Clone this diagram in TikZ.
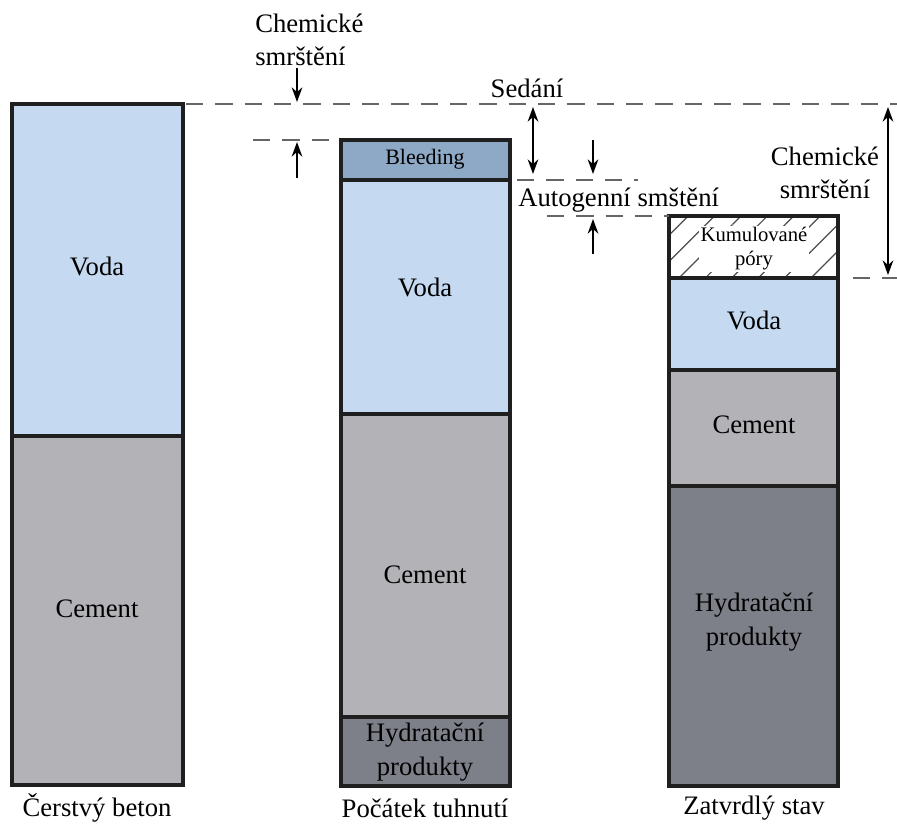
\documentclass[tikz,border=0pt]{standalone}
\usepackage{fontspec}
\setmainfont{Liberation Serif}
\usetikzlibrary{patterns.meta,arrows.meta}
\definecolor{voda}{HTML}{C5D9F1}
\definecolor{cem}{HTML}{B3B3B7}
\definecolor{hydr}{HTML}{7E8089}
\definecolor{bleed}{HTML}{8DA9C6}
\begin{document}
\begin{tikzpicture}[x=0.75pt,y=-0.75pt,
  seg/.style={draw=black!88,line width=2.6pt},
  lbl/.style={font=\fontsize{20}{25}\selectfont, align=center, text=black, inner sep=0pt},
  small/.style={font=\fontsize{16.5}{18}\selectfont, align=center, text=black, inner sep=0pt},
  guide/.style={draw=black!60, line width=1.5pt, dash pattern=on 13pt off 9pt},
  arr/.style={-{Stealth[length=11pt,width=8pt]}, line width=1.2pt},
  darr/.style={{Stealth[length=11pt,width=8pt]}-{Stealth[length=11pt,width=8pt]}, line width=1.2pt}]
\useasboundingbox (0,0) rectangle (897,825);

% column 1
\draw[seg,fill=voda] (12,104) rectangle (183,436);
\draw[seg,fill=cem] (12,436) rectangle (183,785);
\node[lbl] (v1) at (97,266) {Voda};
\node[lbl] (c1) at (97,609) {Cement};
\node[lbl] (t1) at (97,808) {Čerstvý beton};

% column 2
\draw[seg,fill=bleed] (341,140) rectangle (510,180);
\draw[seg,fill=voda] (341,180) rectangle (510,414);
\draw[seg,fill=cem] (341,414) rectangle (510,717);
\draw[seg,fill=hydr] (341,717) rectangle (510,786);
\node[small] (b2) at (425,159) {Bleeding};
\node[lbl] (v2) at (425,287) {Voda};
\node[lbl] (c2) at (425,575) {Cement};
\node[lbl] (h2) at (425,752) {Hydratační\\produkty};
\node[lbl] (t2) at (425,808) {Počátek tuhnutí};

% column 3
\draw[seg,pattern={Lines[angle=45,distance=14pt,line width=0.9pt]},pattern color=black!70] (669,216) rectangle (838,278);
\draw[seg,fill=voda] (669,278) rectangle (838,370);
\draw[seg,fill=cem] (669,370) rectangle (838,486);
\draw[seg,fill=hydr] (669,486) rectangle (838,786);
\node[font=\fontsize{15.5}{18}\selectfont, align=center, text=black, fill=white, inner sep=1pt] (k3) at (754,249) {Kumulované\\póry};
\node[lbl] (v3) at (754,320) {Voda};
\node[lbl] (c3) at (754,425) {Cement};
\node[lbl] (h3) at (754,622) {Hydratační\\produkty};
\node[lbl] (t3) at (754,808) {Zatvrdlý stav};

% guide lines
\coordinate (g1a) at (186,104); \coordinate (g1b) at (897,104);
\coordinate (g2a) at (253,140); \coordinate (g2b) at (341,140);
\coordinate (g3a) at (517,180); \coordinate (g3b) at (638,180);
\coordinate (g4a) at (547,216); \coordinate (g4b) at (669,216);
\coordinate (g5a) at (853,278); \coordinate (g5b) at (897,278);
\draw[guide] (g1a) -- (g1b);
\draw[guide] (g2a) -- (g2b);
\draw[guide] (g3a) -- (g3b);
\draw[guide] (g4a) -- (g4b);
\draw[guide] (g5a) -- (g5b);

% labels
\node[lbl, align=left, anchor=west] (chl) at (255,40) {Chemické\\smrštění};
\node[lbl] (sed) at (527,88) {Sedání};
\node[lbl, anchor=west] (aut) at (518,200) {Autogenní smštění};
\node[lbl] (chr) at (825,173) {Chemické\\smrštění};

% arrows
\coordinate (a1s) at (297,68); \coordinate (a1e) at (297,102);
\coordinate (a2s) at (297,178); \coordinate (a2e) at (297,142);
\coordinate (a3s) at (533,107); \coordinate (a3e) at (533,174);
\coordinate (a4s) at (593,140); \coordinate (a4e) at (593,174);
\coordinate (a5s) at (593,254); \coordinate (a5e) at (593,219);
\coordinate (a6s) at (888,107); \coordinate (a6e) at (888,275);
\draw[arr] (a1s) -- (a1e);
\draw[arr] (a2s) -- (a2e);
\draw[darr] (a3s) -- (a3e);
\draw[arr] (a4s) -- (a4e);
\draw[arr] (a5s) -- (a5e);
\draw[darr] (a6s) -- (a6e);
\end{tikzpicture}
\end{document}
